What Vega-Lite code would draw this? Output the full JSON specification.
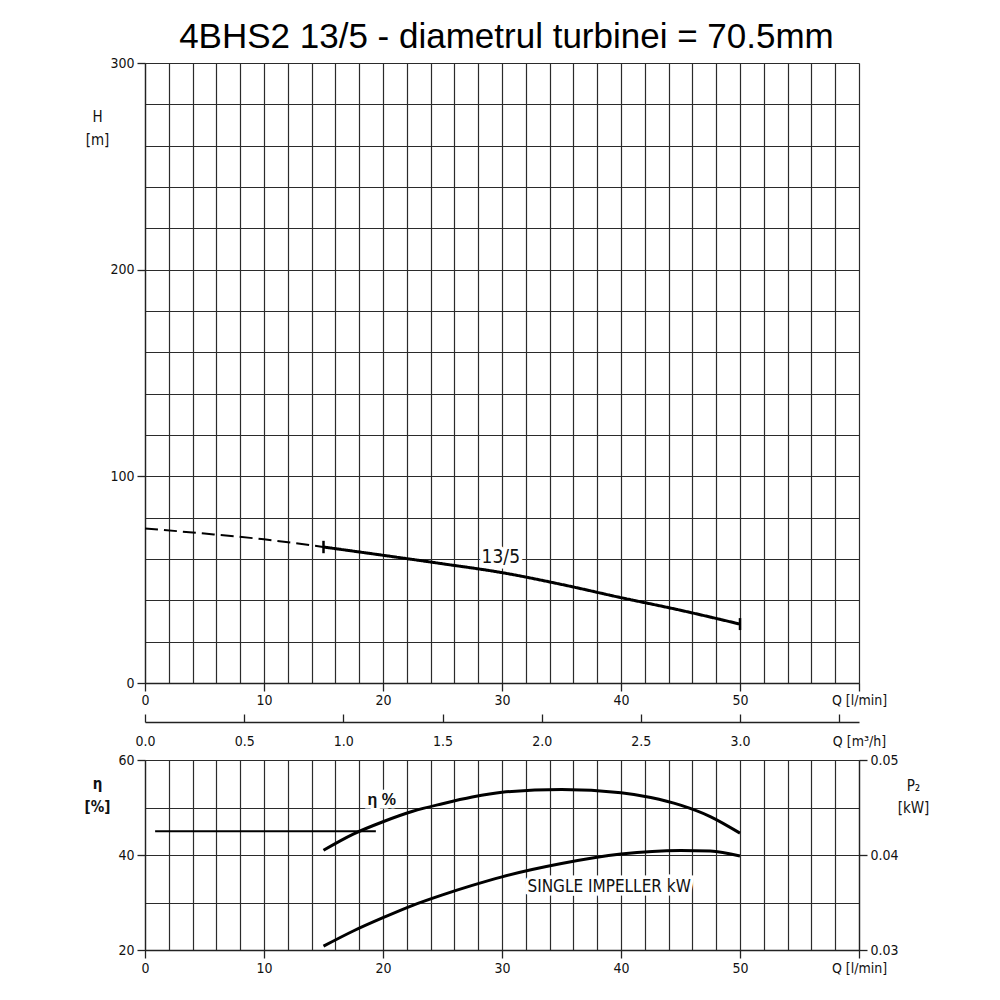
{
  "$schema": "https://vega.github.io/schema/vega-lite/v6.json",
  "padding": {"left": 84, "top": 20, "right": 60, "bottom": 10},
  "title": {"text": "4BHS2 13/5 - diametrul turbinei = 70.5mm", "font": "Liberation Sans", "fontSize": 35, "fontWeight": "normal", "color": "#000", "anchor": "middle", "offset": 1},
  "config": {
    "view": {"stroke": null},
    "axis": {"labelFont": "Liberation Sans Narrow, DejaVu Sans Condensed, Liberation Sans", "labelFontSize": 14, "labelColor": "#111", "domainColor": "#222", "domainWidth": 1.3, "tickColor": "#222", "tickWidth": 1.3, "gridColor": "#2b2b2b", "gridWidth": 1.2, "gridOpacity": 1, "titleFont": "Liberation Sans Narrow, DejaVu Sans Condensed, Liberation Sans", "titleColor": "#111", "titleFontWeight": "normal", "titleFontSize": 15, "labelOverlap": false, "labelFlush": false, "labelBound": false}
  },
  "datasets": {
    "hcurve": [
      {"Q": 0, "H": 74.8, "seg": "dashed"}, {"Q": 5, "H": 72.3, "seg": "dashed"}, {"Q": 10, "H": 69.5, "seg": "dashed"}, {"Q": 15, "H": 65.8, "seg": "dashed"},
      {"Q": 15, "H": 65.8, "seg": "solid"}, {"Q": 20, "H": 61.8, "seg": "solid"}, {"Q": 25, "H": 57.7, "seg": "solid"}, {"Q": 30, "H": 53.4, "seg": "solid"}, {"Q": 35, "H": 47.7, "seg": "solid"}, {"Q": 40, "H": 41.3, "seg": "solid"}, {"Q": 45, "H": 35.2, "seg": "solid"}, {"Q": 50, "H": 28.5, "seg": "solid"}
    ],
    "hticks": [{"Q": 15, "lo": 62.8, "hi": 68.8}, {"Q": 50, "lo": 25.6, "hi": 31.4}],
    "hlabel": [{"Q": 29.9, "H": 61.1, "label": "13/5"}],
    "m3": [{"qm3": 0}, {"qm3": 3.6}],
    "eta": [
      {"Q": 15, "eta": 41.0}, {"Q": 17.5, "eta": 44.4}, {"Q": 20, "eta": 47.0}, {"Q": 22.5, "eta": 49.2}, {"Q": 25, "eta": 50.8}, {"Q": 27.5, "eta": 52.2}, {"Q": 30, "eta": 53.2}, {"Q": 35, "eta": 53.8}, {"Q": 40, "eta": 53.1}, {"Q": 42.5, "eta": 52.1}, {"Q": 45, "eta": 50.5}, {"Q": 47.5, "eta": 48.1}, {"Q": 50, "eta": 44.6}
    ],
    "flat": [{"Q": 0.85, "eta": 45}, {"Q": 19.4, "eta": 45}],
    "etalabel": [{"Q": 19.9, "eta": 51.6, "label": "η  %"}],
    "power": [
      {"Q": 15, "P": 0.0304}, {"Q": 17.5, "P": 0.0320}, {"Q": 20, "P": 0.0334}, {"Q": 22.5, "P": 0.0347}, {"Q": 25, "P": 0.0358}, {"Q": 27.5, "P": 0.0368}, {"Q": 30, "P": 0.0377}, {"Q": 35, "P": 0.0391}, {"Q": 40, "P": 0.0401}, {"Q": 45, "P": 0.04048}, {"Q": 47.5, "P": 0.04043}, {"Q": 50, "P": 0.0399}
    ],
    "plabel": [{"Q": 39.0, "P": 0.03666, "label": "SINGLE IMPELLER kW"}]
  },
  "bounds": "flush",
  "spacing": 77,
  "vconcat": [
    {
      "width": 714,
      "height": 620,
      "layer": [
        {
          "encoding": {
            "x": {"field": "Q", "type": "quantitative", "scale": {"domain": [0, 60], "nice": false, "zero": false},
              "axis": {"values": [0,2,4,6,8,10,12,14,16,18,20,22,24,26,28,30,32,34,36,38,40,42,44,46,48,50,52,54,56,58,60], "grid": true, "title": null, "tickSize": 8, "labelPadding": 2,
                "tickOpacity": {"condition": {"test": "datum.value % 10 === 0", "value": 1}, "value": 0},
                "labelExpr": "datum.value === 60 ? 'Q [l/min]' : (datum.value % 10 === 0 ? datum.label : '')"}}
          },
          "layer": [
            {
              "data": {"name": "hlabel"},
              "mark": {"type": "text", "font": "Liberation Sans Narrow, DejaVu Sans Condensed, Liberation Sans", "fontSize": 19, "stroke": "white", "strokeWidth": 7, "fill": "white"},
              "encoding": {"y": {"field": "H", "type": "quantitative"}, "text": {"field": "label"}}
            },
            {
              "data": {"name": "hlabel"},
              "mark": {"type": "text", "font": "Liberation Sans Narrow, DejaVu Sans Condensed, Liberation Sans", "fontSize": 19, "fill": "#111"},
              "encoding": {"y": {"field": "H", "type": "quantitative"}, "text": {"field": "label"}}
            },
            {
              "data": {"name": "hcurve"},
              "mark": {"type": "line", "color": "black", "interpolate": "monotone", "strokeCap": "butt"},
              "encoding": {
                "y": {"field": "H", "type": "quantitative", "scale": {"domain": [0, 300], "nice": false, "zero": false},
                  "axis": {"values": [0,20,40,60,80,100,120,140,160,180,200,220,240,260,280,300], "grid": true, "tickSize": 8, "labelPadding": 3,
                    "tickOpacity": {"condition": {"test": "datum.value % 100 === 0", "value": 1}, "value": 0},
                    "labelExpr": "datum.value % 100 === 0 ? datum.label : ''",
                    "title": ["H", "[m]"], "titleAngle": 0, "titleX": -48, "titleY": 46, "titleAlign": "center", "titleBaseline": "top", "titleLineHeight": 23}},
                "strokeDash": {"field": "seg", "type": "nominal", "scale": {"domain": ["dashed", "solid"], "range": [[13, 6], [1, 0]]}, "legend": null},
                "strokeWidth": {"field": "seg", "type": "ordinal", "scale": {"domain": ["dashed", "solid"], "range": [2, 3]}, "legend": null}
              }
            },
            {
              "data": {"name": "hticks"},
              "mark": {"type": "rule", "color": "black", "strokeWidth": 2.5},
              "encoding": {"y": {"field": "lo", "type": "quantitative"}, "y2": {"field": "hi"}}
            }
          ]
        },
        {
          "data": {"name": "m3"},
          "mark": {"type": "point", "opacity": 0},
          "encoding": {
            "x": {"field": "qm3", "type": "quantitative", "scale": {"domain": [0, 3.6], "nice": false, "zero": false},
              "axis": {"orient": "bottom", "offset": 39, "values": [0, 0.5, 1, 1.5, 2, 2.5, 3, 3.5, 3.6], "grid": false, "title": null, "tickSize": -8, "labelPadding": 20,
                "tickOpacity": {"condition": {"test": "datum.value > 3.55", "value": 0}, "value": 1},
                "labelExpr": "datum.value > 3.55 ? 'Q [m³/h]' : (datum.value > 3.05 ? '' : format(datum.value, '.1f'))"}}
          }
        }
      ],
      "resolve": {"scale": {"x": "independent"}}
    },
    {
      "width": 714,
      "height": 190,
      "encoding": {
        "x": {"field": "Q", "type": "quantitative", "scale": {"domain": [0, 60], "nice": false, "zero": false},
          "axis": {"values": [0,2,4,6,8,10,12,14,16,18,20,22,24,26,28,30,32,34,36,38,40,42,44,46,48,50,52,54,56,58,60], "grid": true, "title": null, "tickSize": 8, "labelPadding": 3,
            "tickOpacity": {"condition": {"test": "datum.value % 10 === 0", "value": 1}, "value": 0},
            "labelExpr": "datum.value === 60 ? 'Q [l/min]' : (datum.value % 10 === 0 ? datum.label : '')"}}
      },
      "layer": [
        {
          "layer": [
            {
              "data": {"name": "etalabel"},
              "mark": {"type": "text", "font": "Liberation Sans", "fontSize": 16, "fontWeight": "bold", "stroke": "white", "strokeWidth": 7, "fill": "white"},
              "encoding": {"y": {"field": "eta", "type": "quantitative"}, "text": {"field": "label"}}
            },
            {
              "data": {"name": "etalabel"},
              "mark": {"type": "text", "font": "Liberation Sans", "fontSize": 16, "fontWeight": "bold", "fill": "#111"},
              "encoding": {"y": {"field": "eta", "type": "quantitative"}, "text": {"field": "label"}}
            },
            {
              "data": {"name": "eta"},
              "mark": {"type": "line", "color": "black", "strokeWidth": 3, "interpolate": "monotone"},
              "encoding": {
                "y": {"field": "eta", "type": "quantitative", "scale": {"domain": [20, 60], "nice": false, "zero": false},
                  "axis": {"values": [20,25,30,35,40,45,50,55,60], "grid": true, "tickSize": 8, "labelPadding": 3,
                    "tickOpacity": {"condition": {"test": "datum.value % 20 === 0", "value": 1}, "value": 0},
                    "labelExpr": "datum.value % 20 === 0 ? datum.label : ''",
                    "title": ["η", "[%]"], "titleAngle": 0, "titleX": -48, "titleY": 16, "titleAlign": "center", "titleBaseline": "top", "titleLineHeight": 23, "titleFontWeight": "bold"}}
              }
            },
            {
              "data": {"name": "flat"},
              "mark": {"type": "line", "color": "black", "strokeWidth": 2},
              "encoding": {"y": {"field": "eta", "type": "quantitative"}}
            }
          ]
        },
        {
          "layer": [
            {
              "data": {"name": "plabel"},
              "mark": {"type": "text", "font": "Liberation Sans Narrow, DejaVu Sans Condensed, Liberation Sans", "fontSize": 17, "stroke": "white", "strokeWidth": 7, "fill": "white"},
              "encoding": {"y": {"field": "P", "type": "quantitative"}, "text": {"field": "label"}}
            },
            {
              "data": {"name": "plabel"},
              "mark": {"type": "text", "font": "Liberation Sans Narrow, DejaVu Sans Condensed, Liberation Sans", "fontSize": 17, "fill": "#111"},
              "encoding": {"y": {"field": "P", "type": "quantitative"}, "text": {"field": "label"}}
            },
            {
              "data": {"name": "power"},
              "mark": {"type": "line", "color": "black", "strokeWidth": 3, "interpolate": "monotone"},
              "encoding": {
                "y": {"field": "P", "type": "quantitative", "scale": {"domain": [0.03, 0.05], "nice": false, "zero": false},
                  "axis": {"orient": "right", "values": [0.03, 0.04, 0.05], "grid": false, "tickSize": 8, "labelPadding": 3,
                    "labelExpr": "format(datum.value, '.2f')",
                    "title": ["P₂", "[kW]"], "titleAngle": 0, "titleX": 54, "titleY": 18, "titleAlign": "center", "titleBaseline": "top", "titleLineHeight": 22}}
              }
            }
          ]
        }
      ],
      "resolve": {"scale": {"y": "independent"}}
    }
  ]
}
